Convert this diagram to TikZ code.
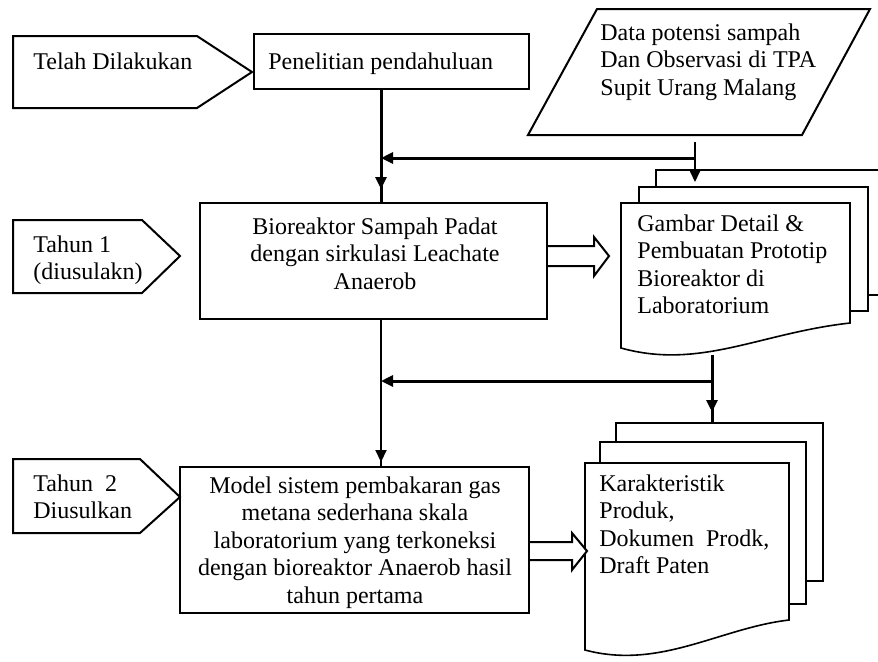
\documentclass[tikz,border=0pt]{standalone}
\usepackage{fontspec}
\setmainfont{Liberation Serif}
\usetikzlibrary{arrows.meta,calc,decorations.markings}

\tikzset{
	box/.style={draw, line width=1pt, inner sep=0pt},
	sheet/.style={draw, line width=0.8pt, fill=white},
	txt/.style={inner sep=0pt, align=left, font=\fontsize{12}{13.8}\selectfont},
	ctxt/.style={txt, align=center},
	flow/.style={line width=1.5pt},
	tip/.style={-{Triangle[length=6pt,width=5.5pt]}},
	midarrow/.style={postaction={decorate}, decoration={markings,
		mark=at position #1 with {\arrow{Triangle[length=6pt,width=5.5pt]}}}},
	hollow/.style={draw, line width=1pt, fill=white},
}

\begin{document}
\begin{tikzpicture}[x=0.5pt,y=-0.5pt]
		\useasboundingbox (0,0) rectangle (878,661);
		\clip (0,0) rectangle (878,661);
		% labels on the left
		\draw[box] (13,36) -- (197,36) -- (252,72) -- (197,108) -- (13,108) -- cycle;
		\draw[box] (13,220) -- (142,220) -- (180,256) -- (142,293) -- (13,293) -- cycle;
		\draw[box] (13,459) -- (140,459) -- (180,497) -- (140,533) -- (13,533) -- cycle;
		\node[txt, anchor=north west] (telah) at (33,52) {Telah Dilakukan};
		\node[txt, anchor=north west] (thn1) at (33,235) {Tahun 1\\(diusulakn)};
		\node[txt, anchor=north west] (thn2) at (33,474) {Tahun\ \ 2\\Diusulkan};
%
		\node[box, minimum width=137.5pt, minimum height=27.5pt] (pen) at (391.5,61.5) {};
		\node[box, minimum width=173.5pt, minimum height=58pt] (bio) at (373.5,261) {};
		\node[box, minimum width=174.5pt, minimum height=73pt] (model) at (354.5,540) {};
		\node[txt, anchor=north west] (penT) at (268,52) {Penelitian pendahuluan};
		\node[ctxt, anchor=north] (bioT) at (375,217)
			{Bioreaktor Sampah Padat\\dengan sirkulasi Leachate\\Anaerob};
		\node[ctxt, anchor=north] (modelT) at (355,476)
			{Model sistem pembakaran gas\\metana sederhana skala\\laboratorium yang terkoneksi\\dengan bioreaktor Anaerob hasil\\tahun pertama};
		% data input
		\draw[box] (597,9) -- (870,9) -- (802,135) -- (528,135) -- cycle;
		\node[txt, anchor=north west] (dataT) at (600,23)
			{Data potensi sampah\\Dan Observasi di TPA\\Supit Urang Malang};
		% document stacks
		\draw[sheet] (656,170) rectangle (890,295);
		\draw[sheet] (639,187) rectangle (868,311);
		\draw[sheet] (621,203) -- (850,203) -- (850,323)
			.. controls (760,333) and (700,370) .. (621,348) -- cycle;
		\node[txt, anchor=north west] (gamT) at (637,214)
			{Gambar Detail \&\\Pembuatan Prototip\\Bioreaktor di\\Laboratorium};
		\draw[sheet] (616,423) rectangle (823,581);
		\draw[sheet] (600,442) rectangle (806,604);
		\draw[sheet] (585,463) -- (789,463) -- (789,620)
			.. controls (720,628) and (660,670) .. (585,650) -- cycle;
		\node[txt, anchor=north west] (karT) at (599,474)
			{Karakteristik\\Produk,\\Dokumen\ \ Prodk,\\Draft Paten};
		% connectors
		\coordinate (s1) at ($(pen.south)+(-10.5,0)$);
		\coordinate (s2) at (bio.south -| s1);
		\coordinate (dataB) at (695,142);
		\coordinate (gamIn) at (695,182);
		\coordinate (j1) at (695,158);
		\coordinate (gamB) at (712,355);
		\coordinate (karIn) at (712,423);
		\coordinate (j2) at (712,381);
		\draw[flow, midarrow=-6.5pt] (s1) -- (s1 |- bio.north);
		\draw[flow, tip] (j1) -- (j1 -| s1);
		\draw[line width=0.8pt, tip] (dataB) -- (gamIn);
		\draw[line width=1pt, midarrow=-2pt] (s2) -- (s2 |- model.north);
		\draw[flow, midarrow=-5.5pt] (gamB) -- (karIn);
		\draw[flow, tip] (j2) -- (j2 -| s1);
		% hollow arrows
		\coordinate (o1) at ($(bio.east)+(0,-5)$);
		\coordinate (o2) at ($(model.east)+(0,11)$);
		\draw[hollow] (o1) ++(0,-10) -- ++(46,0) -- ++(0,-9) -- ++(15,19)
			-- ++(-15,20) -- ++(0,-10) -- ++(-46,0);
		\draw[hollow] (o2) ++(0,-9) -- ++(42,0) -- ++(0,-9) -- ++(15,18)
			-- ++(-15,19) -- ++(0,-10) -- ++(-42,0);
	\end{tikzpicture}
\end{document}
